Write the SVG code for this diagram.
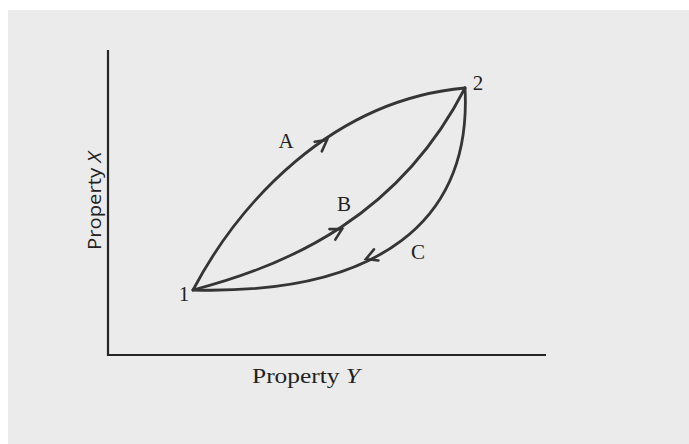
<svg xmlns="http://www.w3.org/2000/svg" width="689" height="444" viewBox="0 0 689 444">
<style>
.bg{fill:#ebebeb}
.axis{stroke:#262626;stroke-width:2.2;fill:none}
.curve{stroke:#353535;stroke-width:2.8;fill:none;stroke-linecap:round}
.head{stroke:#353535;stroke-width:2.6;fill:none;stroke-linecap:round;stroke-linejoin:miter}
.lbl{font-family:"Liberation Serif","Times New Roman",serif;font-size:21px;fill:#222;text-anchor:middle}
.axl{font-family:"Liberation Serif","Times New Roman",serif;font-size:21px;fill:#222}
.axls{font-family:"Open Sans","Noto Sans",sans-serif;font-size:19px;fill:#222}
</style>
<defs>
<path id="chev" d="M-11,-6 L0,0 L-11,6"/>
</defs>
<rect width="689" height="444" fill="#ffffff"/>
<rect class="bg" x="8" y="10" width="681" height="434"/>

<g id="axes">
<line class="axis" x1="108" y1="50" x2="108" y2="356"/>
<line class="axis" x1="107" y1="355" x2="546" y2="355"/>
<text class="axl" x="252" y="383" textLength="108" lengthAdjust="spacingAndGlyphs">Property <tspan font-style="italic">Y</tspan></text>
<text class="axls" transform="translate(101,250) rotate(-90)" x="0" y="0" textLength="98" lengthAdjust="spacingAndGlyphs">Property <tspan font-style="italic">X</tspan></text>
</g>

<g id="connectors">
<g id="path-A">
<path class="curve" d="M193,290 C238,205 330,100 465,88"/>
<use href="#chev" class="head" transform="translate(327,140) rotate(-37)"/>
</g>
<g id="path-B">
<path class="curve" d="M193,290 C290,265 400,215 465,88"/>
<use href="#chev" class="head" transform="translate(342,229) rotate(-29)"/>
</g>
<g id="path-C">
<path class="curve" d="M465,88 C472,220 380,295 193,290"/>
<use href="#chev" class="head" transform="translate(366,259) rotate(158)"/>
</g>
</g>

<g id="node-1"><text class="lbl" x="184" y="301">1</text></g>
<g id="node-2"><text class="lbl" x="478" y="90">2</text></g>
<g id="label-A"><text class="lbl" x="286" y="148">A</text></g>
<g id="label-B"><text class="lbl" x="344" y="211">B</text></g>
<g id="label-C"><text class="lbl" x="418" y="259">C</text></g>
</svg>
